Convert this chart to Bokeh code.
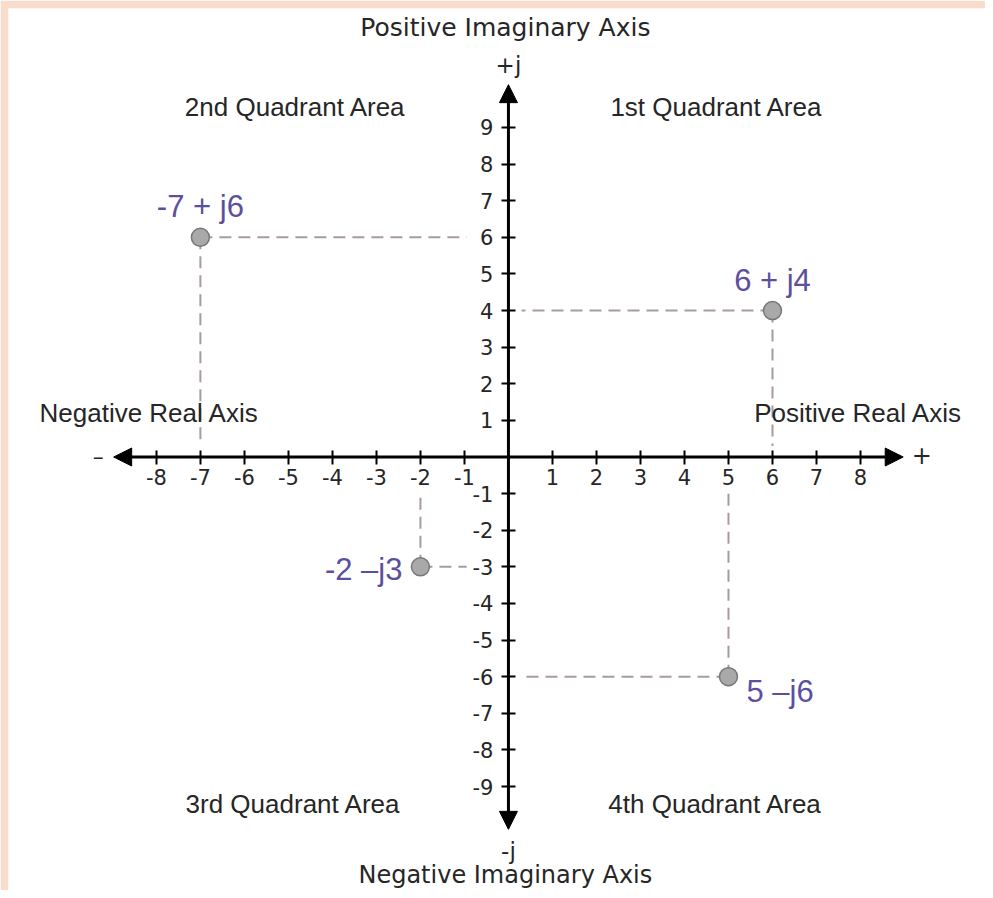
from bokeh.plotting import figure
from bokeh.models import (ColumnDataSource, Range1d, LinearAxis, FixedTicker,
                          Arrow, NormalHead, Label)
from bokeh.embed import file_html
from bokeh.resources import INLINE
from bokeh.core.properties import value

# ---------------- data ----------------
point_re = [-7, 6, -2, 5]
point_im = [6, 4, -3, -6]
point_labels = ["-7 + j6", "6 + j4", "-2 \u2013j3", "5 \u2013j6"]
label_side = ["above", "above", "left", "right"]

x_ticks = [-8, -7, -6, -5, -4, -3, -2, -1, 1, 2, 3, 4, 5, 6, 7, 8]
y_ticks = [-9, -8, -7, -6, -5, -4, -3, -2, -1, 1, 2, 3, 4, 5, 6, 7, 8, 9]

quadrant_names = ["1st Quadrant Area", "2nd Quadrant Area",
                  "3rd Quadrant Area", "4th Quadrant Area"]
axis_titles = ["Positive Imaginary Axis", "Negative Imaginary Axis",
               "Negative Real Axis", "Positive Real Axis"]

# ---------------- layout constants ----------------
W, H = 985, 890
BORDER = 8
X_RANGE = (-11.36, 10.84)
Y_RANGE = (-11.84, 12.25)
AX_X = 8.97      # arrow tips on the real axis
AX_Y = 10.17     # arrow tips on the imaginary axis
NEG_GAP_X, POS_GAP_X = 0.95, 0.3
NEG_GAP_Y, POS_GAP_Y = 0.95, 0.3

TXT = "#262626"
PURPLE = "#5b4f9e"
DASH = "#a79d98"
PEACH = "#f9dccb"

p = figure(width=W, height=H, x_range=Range1d(*X_RANGE), y_range=Range1d(*Y_RANGE),
           x_axis_type=None, y_axis_type=None, toolbar_location=None,
           output_backend="svg", min_border=0, min_border_left=BORDER,
           min_border_top=BORDER, outline_line_color=None,
           background_fill_color="white", border_fill_color=PEACH)
p.xgrid.visible = False
p.ygrid.visible = False

# ---------------- dashed projections ----------------
hx0, hx1, hy = [], [], []
vy0, vy1, vx = [], [], []
for re_, im_ in zip(point_re, point_im):
    hx0.append(re_)
    hx1.append(-NEG_GAP_X if re_ < 0 else POS_GAP_X)
    hy.append(im_)
    vx.append(re_)
    vy0.append(im_)
    vy1.append(-NEG_GAP_Y if im_ < 0 else POS_GAP_Y)
p.segment(x0=hx0, y0=hy, x1=hx1, y1=hy, line_color=DASH, line_width=2, line_dash="12 7")
p.segment(x0=vx, y0=vy0, x1=vx, y1=vy1, line_color=DASH, line_width=2, line_dash="12 7")

# ---------------- axes ----------------
def head():
    return NormalHead(size=18, fill_color="black", line_color="black")

p.add_layout(Arrow(start=head(), end=head(), x_start=-AX_X, y_start=0,
                   x_end=AX_X, y_end=0, line_color="black", line_width=3))
p.add_layout(Arrow(start=head(), end=head(), x_start=0, y_start=-AX_Y,
                   x_end=0, y_end=AX_Y, line_color="black", line_width=3))

tick_style = dict(axis_line_color=None, major_tick_in=7, major_tick_out=7,
                  major_tick_line_width=2, major_tick_line_color="black",
                  minor_tick_line_color=None,
                  major_label_text_font="DejaVu Sans",
                  major_label_text_font_size="21px",
                  major_label_text_color=TXT)
xaxis = LinearAxis(fixed_location=0, ticker=FixedTicker(ticks=x_ticks),
                   major_label_standoff=5, **tick_style)
xaxis.major_label_overrides = {t: str(t) for t in x_ticks}
yaxis = LinearAxis(fixed_location=0, ticker=FixedTicker(ticks=y_ticks),
                   major_label_standoff=8, **tick_style)
yaxis.major_label_overrides = {t: str(t) for t in y_ticks}
p.add_layout(xaxis, "below")
p.add_layout(yaxis, "left")

# ---------------- points ----------------
p.scatter(point_re, point_im, size=18, fill_color="#a9a9a9", line_color="#777777",
          line_width=1.5)

xo, yo, al, bl = [], [], [], []
for side in label_side:
    if side == "above":
        xo.append(0); yo.append(-13); al.append("center"); bl.append("bottom")
    elif side == "left":
        xo.append(-18); yo.append(3); al.append("right"); bl.append("middle")
    else:
        xo.append(18); yo.append(15); al.append("left"); bl.append("middle")
lsrc = ColumnDataSource(dict(x=point_re, y=point_im, t=point_labels,
                             xo=xo, yo=yo, al=al, bl=bl))
p.text(x="x", y="y", text="t", x_offset="xo", y_offset="yo", text_align="al",
       text_baseline="bl", source=lsrc, text_font=value("Liberation Sans"),
       text_font_size="31px", text_color=PURPLE)

# ---------------- annotations ----------------
def add_label(x, y, text, font, size, align="center", color=TXT):
    p.add_layout(Label(x=x, y=y, text=text, text_font=font, text_font_size=size,
                       text_align=align, text_baseline="middle", text_color=color))

quad_pos = [(4.73, 9.55), (-4.84, 9.55), (-4.89, -9.47), (4.70, -9.47)]
for (qx, qy), name in zip(quad_pos, quadrant_names):
    add_label(qx, qy, name, "Liberation Sans", "26px")

add_label(-0.07, 11.73, axis_titles[0], "DejaVu Sans", "25px")
add_label(-0.07, -11.42, axis_titles[1], "DejaVu Sans", "24px")
add_label(-8.16, 1.19, axis_titles[2], "Liberation Sans", "26px")
add_label(7.95, 1.19, axis_titles[3], "Liberation Sans", "26px")

add_label(0, 10.7, "+j", "DejaVu Sans", "23px")
add_label(0, -10.75, "-j", "DejaVu Sans", "23px")
add_label(-9.32, 0.02, "\u2013", "DejaVu Sans", "22px")
add_label(9.39, 0.05, "+", "DejaVu Sans", "24px")

open("out.html", "w").write(file_html(p, INLINE))
